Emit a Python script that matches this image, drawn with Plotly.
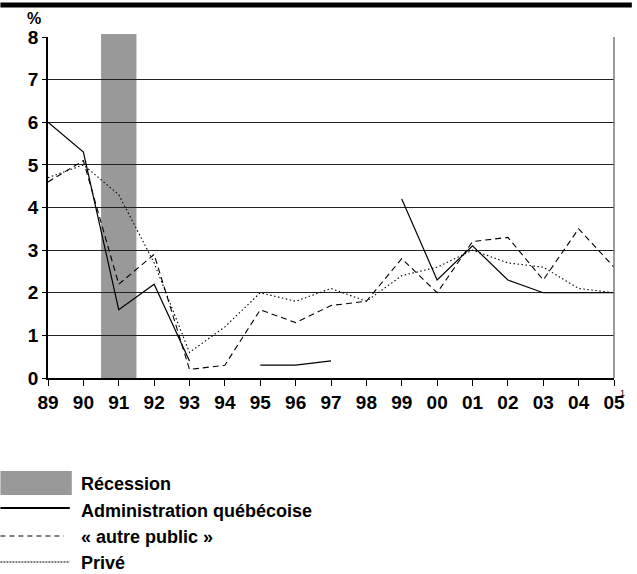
import plotly.graph_objects as go

# ---- data ----
years = ["89", "90", "91", "92", "93", "94", "95", "96", "97", "98",
         "99", "00", "01", "02", "03", "04", "05"]
admin_quebecoise = [6.0, 5.3, 1.6, 2.2, 0.4, None, 0.3, 0.3, 0.4, None,
                    4.2, 2.3, 3.1, 2.3, 2.0, 2.0, 2.0]
autre_public = [4.6, 5.1, 2.2, 2.9, 0.2, 0.3, 1.6, 1.3, 1.7, 1.8,
                2.8, 2.0, 3.2, 3.3, 2.3, 3.5, 2.6]
prive = [4.7, 5.0, 4.3, 2.7, 0.6, 1.2, 2.0, 1.8, 2.1, 1.8,
         2.4, 2.6, 3.0, 2.7, 2.6, 2.1, 2.0]
recession_years = ["91"]
y_ticks = [0, 1, 2, 3, 4, 5, 6, 7, 8]
legend_labels = ["Récession", "Administration québécoise", "« autre public »", "Privé"]

W, H = 637, 574
L, R, T, B = 48, 619, 37, 378  # plot area in pixels


def px(xp):
    return (xp - L) / (R - L)


def py(yp):
    return (B - yp) / (B - T)


FONT = "Liberation Sans, Arial, sans-serif"
xs = list(range(len(years)))

fig = go.Figure()
fig.add_trace(go.Scatter(x=xs, y=admin_quebecoise, mode="lines",
                         line=dict(color="black", width=1.2), connectgaps=False,
                         name=legend_labels[1], showlegend=False))
fig.add_trace(go.Scatter(x=xs, y=autre_public, mode="lines",
                         line=dict(color="black", width=1.1, dash="6px,4px"),
                         name=legend_labels[2], showlegend=False))
fig.add_trace(go.Scatter(x=xs, y=prive, mode="lines",
                         line=dict(color="black", width=1.1, dash="1.5px,2.5px"),
                         name=legend_labels[3], showlegend=False))

shapes = []
# recession band
for ry in recession_years:
    i = years.index(ry)
    shapes.append(dict(type="rect", xref="x", yref="paper", x0=i - 0.5, x1=i + 0.5,
                       y0=0, y1=py(34), fillcolor="#999999", line=dict(width=0),
                       layer="below"))
# top black bar
shapes.append(dict(type="rect", xref="paper", yref="paper", x0=px(0), x1=px(W),
                   y0=py(7.5), y1=py(2.5), fillcolor="black", line=dict(width=0)))
# right border
shapes.append(dict(type="line", xref="paper", yref="paper", x0=1, x1=1, y0=0, y1=1,
                   line=dict(color="#777777", width=1.5)))
# legend swatches
shapes.append(dict(type="rect", xref="paper", yref="paper", x0=px(0), x1=px(72),
                   y0=py(495), y1=py(471), fillcolor="#999999", line=dict(width=0)))
shapes.append(dict(type="line", xref="paper", yref="paper", x0=px(0), x1=px(70),
                   y0=py(508), y1=py(508), line=dict(color="black", width=2)))
shapes.append(dict(type="line", xref="paper", yref="paper", x0=px(0), x1=px(64),
                   y0=py(536), y1=py(536), line=dict(color="black", width=1.2, dash="5px,4px")))
shapes.append(dict(type="line", xref="paper", yref="paper", x0=px(0), x1=px(70),
                   y0=py(562), y1=py(562), line=dict(color="black", width=1.2, dash="2px,1px")))

annotations = []
for lab, yc in zip(legend_labels, [484, 511, 537, 563]):
    annotations.append(dict(text="<b>%s</b>" % lab, xref="paper", yref="paper",
                            x=px(79), y=py(yc), xanchor="left", yanchor="middle",
                            showarrow=False, font=dict(family=FONT, size=18, color="black")))
annotations.append(dict(text="<b>%</b>", xref="paper", yref="paper", x=px(34), y=py(18),
                        xanchor="center", yanchor="middle", showarrow=False,
                        font=dict(family=FONT, size=16, color="black")))
annotations.append(dict(text="1", xref="paper", yref="paper", x=px(628), y=py(393),
                        xanchor="center", yanchor="middle", showarrow=False,
                        font=dict(family=FONT, size=9, color="black")))

fig.update_layout(
    width=W, height=H,
    margin=dict(l=L, r=W - R, t=T, b=H - B),
    paper_bgcolor="white", plot_bgcolor="white",
    shapes=shapes, annotations=annotations,
    showlegend=False,
    xaxis=dict(range=[0, len(years) - 1], tickvals=xs, ticktext=["<b>%s</b>" % y for y in years],
               ticks="outside", ticklen=6, tickcolor="black", tickwidth=1,
               showline=True, linecolor="black", linewidth=1.5, showgrid=False,
               zeroline=False, tickfont=dict(family=FONT, size=19, color="black")),
    yaxis=dict(range=[0, 8], tickvals=y_ticks, ticktext=["<b>%d</b>" % v for v in y_ticks],
               ticks="outside", ticklen=4, tickcolor="black",
               showline=True, linecolor="black", linewidth=1.5,
               showgrid=True, gridcolor="#222222", gridwidth=1, zeroline=False,
               tickfont=dict(family=FONT, size=19, color="black")),
)

fig.write_html("out.html", config={"displayModeBar": False, "responsive": False},
               post_script="document.body.style.margin='0';document.body.style.overflow='hidden';")
